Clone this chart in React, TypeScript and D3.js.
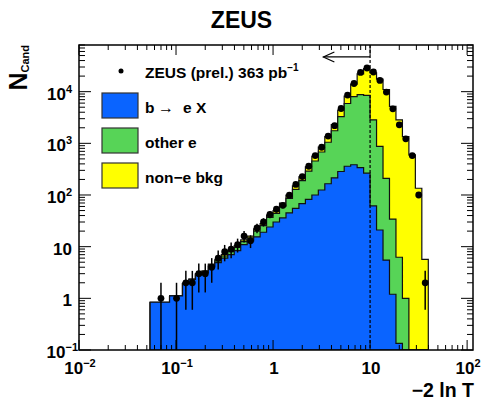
import * as d3 from "d3"

// bin edges, in units of 1/15 decade (first two bins are merged)
const binEdgeExp = [-19, -16, ...d3.range(-14, 25)]

// data (ZEUS prel.)
const dataCounts = [
  1, 1, 2, 2, 3, 3, 4, 6, 8, 9, 11, 16, 13, 23, 30, 42, 53, 63, 99, 160, 227, 360,
  580, 840, 1380, 2200, 4720, 8600, 14400, 23600, 28700, 24000, 16500, 9800, 4660,
  2280, 1220, 580, 100, 2,
]
const dataErrors = [
  1, 1, 1.4, 1.4, 1.7, 1.7, 2, 2.4, 2.8, 3, 3.3, 4, 3.6, 4.8, 5.5, 6.5, 7.3, 7.9, 9.9,
  12.6, 15, 19, 24, 29, 37, 47, 69, 93, 120, 154, 169, 155, 128, 99, 68, 48, 35, 24, 10, 1.4,
]

// MC components
const bToE = [
  0.84, 1.12, 1.95, 2.33, 2.85, 3.1, 4.1, 4.9, 6.0, 7.0, 8.4, 11, 13, 15.5, 19, 24, 30, 36,
  45, 55, 68, 82, 100, 125, 165, 215, 285, 360, 385, 340, 265, 61.5, 21, 5.5, 1.2, 0.134,
  0, 0, 0, 0,
]
const otherE = [
  0, 0, 0, 0, 0.1, 0.2, 0.3, 0.4, 0.6, 1.0, 1.3, 1.5, 1.8, 4.5, 6.5, 13, 14, 25, 41, 73,
  122, 208, 355, 555, 885, 1535, 3015, 5540, 7615, 8460, 8235, 2790, 849, 205, 33, 6.1,
  1.0, 0, 0, 0,
]
const nonEBkg = [
  0, 0, 0, 0.02, 0.05, 0.1, 0.2, 0.3, 0.4, 0.6, 0.8, 1.0, 1.2, 2, 2.5, 4, 6, 9, 14, 22, 35,
  60, 105, 170, 300, 550, 1100, 2300, 6000, 13200, 19500, 20150, 16630, 10790, 5166, 2844,
  1349, 600, 135, 5.7,
]

const legendLabels = ["b", "other e", "non\u2212e bkg"]
const colors = ["#0a64ff", "#57d457", "#ffff00"]

const cutValue = 10
const arrowTo = 3.3
const arrowAt = 4.7e4

const W = 482
const H = 400
const left = 79
const right = 473
const top = 45
const bottom = 350
const font = "'Liberation Sans', Arial, Helvetica, sans-serif"

export default function App() {
  const x = d3.scaleLog().domain([0.01, 115]).range([left, right])
  const y = d3.scaleLog().domain([0.1, 8e4]).range([bottom, top])

  const edges = binEdgeExp.map((e) => Math.pow(10, e / 15))
  const centers = edges.slice(0, -1).map((e, i) => (e + edges[i + 1]) / 2)

  const rows = bToE.map((b, i) => ({ b, g: otherE[i], n: nonEBkg[i] }))
  const stack = d3.stack<{ b: number; g: number; n: number }>().keys(["b", "g", "n"])(rows)

  const yv = (v: number) => (v > 0.1 ? y(v) : bottom)

  const stepPath = (vals: number[]) => {
    let d = `M${x(edges[0])},${bottom}`
    vals.forEach((v, i) => {
      d += `L${x(edges[i])},${yv(v)}L${x(edges[i + 1])},${yv(v)}`
    })
    d += `L${x(edges[edges.length - 1])},${bottom}Z`
    return d
  }

  // ticks
  const xMajor = [-2, -1, 0, 1, 2]
  const xMinor: number[] = []
  for (let k = -2; k <= 2; k++) for (let m = 2; m <= 9; m++) if (m * 10 ** k <= 115) xMinor.push(m * 10 ** k)
  const yMajor = [-1, 0, 1, 2, 3, 4]
  const yMinor: number[] = []
  for (let k = -1; k <= 4; k++) for (let m = 2; m <= 9; m++) if (m * 10 ** k <= 8e4) yMinor.push(m * 10 ** k)

  const powLabel = (k: number) =>
    k === 0 ? [["1", false]] : k === 1 ? [["10", false]] : [["10", false], [k < 0 ? `\u2212${-k}` : `${k}`, true]]

  const renderLabel = (k: number) =>
    (powLabel(k) as [string, boolean][]).map(([t, sup], i) =>
      sup ? (
        <tspan key={i} fontSize={11} dy={-7}>
          {t}
        </tspan>
      ) : (
        <tspan key={i}>{t}</tspan>
      ),
    )

  const ax = x(cutValue)
  const ay = y(arrowAt)
  const tip = x(arrowTo)

  return (
    <div style={{ position: "fixed", left: 0, top: 0, width: W, height: H, background: "#fff" }}>
      <svg width={W} height={H} style={{ display: "block" }} fontFamily={font}>
        <defs>
          <clipPath id="plot">
            <rect x={left} y={top} width={right - left} height={bottom - top} />
          </clipPath>
        </defs>

        <text x={241.5} y={28} textAnchor="middle" fontWeight="bold" fontSize={23}>
          ZEUS
        </text>

        <g clipPath="url(#plot)">
          {[2, 1, 0].map((li) => (
            <path
              key={li}
              d={stepPath(stack[li].map((s) => s[1]))}
              fill={colors[li]}
              stroke="#111"
              strokeWidth={1.2}
            />
          ))}

          <line x1={ax} x2={ax} y1={top} y2={bottom} stroke="#000" strokeWidth={1.2} strokeDasharray="3,2" />

          {dataCounts.map((c, i) => {
            const cx = x(centers[i])
            return (
              <g key={i}>
                <line x1={cx} x2={cx} y1={yv(c + dataErrors[i])} y2={yv(c - dataErrors[i])} stroke="#000" strokeWidth={1.5} />
                <circle cx={cx} cy={y(c)} r={3.4} fill="#000" />
              </g>
            )
          })}
        </g>

        {/* cut arrow */}
        <line x1={ax} x2={tip} y1={ay} y2={ay} stroke="#000" strokeWidth={1.2} />
        <polyline points={`${tip + 11},${ay - 5} ${tip},${ay} ${tip + 11},${ay + 5}`} fill="none" stroke="#000" strokeWidth={1.2} />

        {/* ticks */}
        <g stroke="#000" strokeWidth={1}>
          {xMajor.map((k) => (
            <g key={k}>
              <line x1={x(10 ** k)} x2={x(10 ** k)} y1={bottom} y2={bottom - 10} />
              <line x1={x(10 ** k)} x2={x(10 ** k)} y1={top} y2={top + 10} />
            </g>
          ))}
          {xMinor.map((v) => (
            <g key={v}>
              <line x1={x(v)} x2={x(v)} y1={bottom} y2={bottom - 5} />
              <line x1={x(v)} x2={x(v)} y1={top} y2={top + 5} />
            </g>
          ))}
          {yMajor.map((k) => (
            <g key={k}>
              <line x1={left} x2={left + 12} y1={y(10 ** k)} y2={y(10 ** k)} />
              <line x1={right} x2={right - 12} y1={y(10 ** k)} y2={y(10 ** k)} />
            </g>
          ))}
          {yMinor.map((v) => (
            <g key={v}>
              <line x1={left} x2={left + 6} y1={y(v)} y2={y(v)} />
              <line x1={right} x2={right - 6} y1={y(v)} y2={y(v)} />
            </g>
          ))}
        </g>

        <rect x={left} y={top} width={right - left} height={bottom - top} fill="none" stroke="#000" strokeWidth={1.5} />

        {/* tick labels */}
        <g fontWeight="bold" fontSize={17}>
          {xMajor.map((k) => (
            <text key={k} x={x(10 ** k) + 1} y={374} textAnchor="middle">
              {renderLabel(k)}
            </text>
          ))}
          {yMajor.map((k) => (
            <text key={k} x={k < 0 ? 78 : 72} y={y(10 ** k) + 8} textAnchor="end">
              {renderLabel(k)}
            </text>
          ))}
        </g>

        {/* axis titles */}
        <text x={474} y={397} textAnchor="end" fontWeight="bold" fontSize={19.5}>
          {"\u22122 ln T"}
        </text>
        <text transform={`translate(27,${top}) rotate(-90)`} textAnchor="end" fontWeight="bold" fontSize={25}>
          N
          <tspan fontSize={11} dy={2}>
            Cand
          </tspan>
        </text>

        {/* legend */}
        <g fontWeight="bold" fontSize={15.5}>
          <circle cx={121} cy={71} r={2.5} fill="#000" />
          <text x={145} y={77.5}>
            ZEUS (prel.) 363 pb
            <tspan fontSize={10} dy={-7}>
              {"\u22121"}
            </tspan>
          </text>
          {colors.map((c, i) => {
            const by = 93 + i * 35
            return (
              <g key={i}>
                <rect x={102} y={by} width={36} height={25} fill={c} stroke="#333" strokeWidth={1.2} />
                {i === 0 ? (
                  <text x={145} y={by + 20}>
                    {legendLabels[0]}
                    <tspan x={158} fontWeight="normal" fontSize={16}>
                      {"\u2192"}
                    </tspan>
                    <tspan x={183}>e X</tspan>
                  </text>
                ) : (
                  <text x={145} y={by + 20}>
                    {legendLabels[i]}
                  </text>
                )}
              </g>
            )
          })}
        </g>
      </svg>
    </div>
  )
}
